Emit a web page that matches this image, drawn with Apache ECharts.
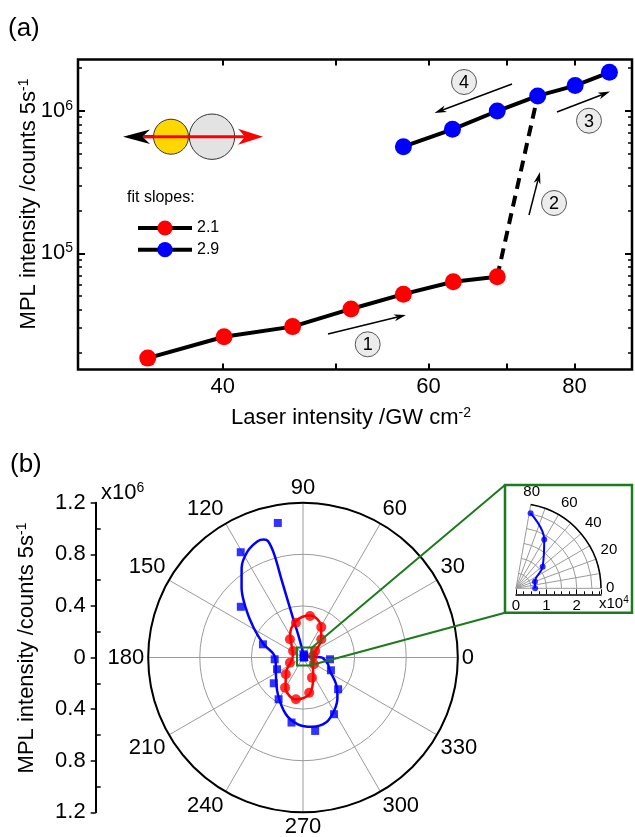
<!DOCTYPE html>
<html><head><meta charset="utf-8">
<script src="https://cdn.jsdelivr.net/npm/echarts@6/dist/echarts.min.js"></script>
<style>html,body{margin:0;padding:0;background:#fff}#c{width:635px;height:837px}</style>
</head><body><div id="c"></div>
<script>
// ---------- Panel (a) data ----------
const redIntensity  = [34.5, 40.1, 45.9, 51.5, 57.1, 63.0, 68.7];
const redCounts     = [1.84e4, 2.60e4, 3.06e4, 4.07e4, 5.17e4, 6.32e4, 6.85e4];
const blueIntensity = [57.1, 62.9, 68.7, 74.4, 80.1, 85.7];
const blueCounts    = [5.59e5, 7.40e5, 9.95e5, 1.27e6, 1.50e6, 1.86e6];
const jumpIntensity = [68.7, 74.4];
const jumpCounts    = [6.85e4, 1.27e6];
const slopeNames    = ['2.1', '2.9'];
const xTickValues   = [40, 50, 60, 70, 80];
const xLabelValues  = [40, 60, 80];
const yMajorValues  = [1e5, 1e6];
const yMinorValues  = [2e4,3e4,4e4,5e4,6e4,7e4,8e4,9e4,2e5,3e5,4e5,5e5,6e5,7e5,8e5,9e5,2e6];
const xRange = [30.07, 89.6];
const yRange = [1.531e4, 2.286e6];

// ---------- Panel (b) data (angle in degrees, counts) ----------
const blueSqAngle = [0, 19, 39, 60, 79, 100.6, 120.6, 140.8, 161.8, 183.6, 204.4, 221.4, 239.7, 260, 279.4, 298.7, 317.9, 335.4, 356.2];
const blueSqR     = [0.0063e6, 0.0066e6, 0.0113e6, 0.0186e6, 0.0252e6, 1.061e6, 0.948e6, 0.622e6, 0.327e6, 0.220e6, 0.221e6, 0.302e6, 0.375e6, 0.512e6, 0.577e6, 0.501e6, 0.367e6, 0.238e6, 0.210e6];
const blueFitAngle = [0, 10, 20, 40, 60, 80, 95, 100, 102, 104, 105.4, 105.6, 106.7, 108.4, 111.3, 117.5, 124.4, 131.4, 139.1, 148.9, 161.4, 173.8, 190, 211.7, 235.6, 253.2, 265.6, 277.4, 289.4, 300.1, 310.6, 321.1, 333.4, 345, 360];
const blueFitR     = [0.15e6, 0.05e6, 0.008e6, 0.011e6, 0.019e6, 0.025e6, 0.06e6, 0.12e6, 0.186e6, 0.291e6, 0.614e6, 0.832e6, 0.941e6, 0.964e6, 0.968e6, 0.929e6, 0.842e6, 0.72e6, 0.588e6, 0.447e6, 0.321e6, 0.228e6, 0.215e6, 0.247e6, 0.345e6, 0.459e6, 0.519e6, 0.542e6, 0.535e6, 0.479e6, 0.41e6, 0.33e6, 0.234e6, 0.2e6, 0.15e6];
const redDotAngle = [8.4, 28, 44.8, 59, 80.4, 101.5, 125.7, 147, 201.6, 224.3, 239.2, 260.4, 280, 294, 328];
const redDotR     = [0.08e6, 0.107e6, 0.2e6, 0.275e6, 0.326e6, 0.275e6, 0.174e6, 0.092e6, 0.109e6, 0.186e6, 0.272e6, 0.328e6, 0.277e6, 0.171e6, 0.1e6];
const redFitAngle = [0, 20, 30, 45, 60, 80, 100, 120, 140, 160, 180, 200, 220, 240, 260, 280, 300, 320, 340, 360];
const redFitR     = [0.08e6, 0.09e6, 0.12e6, 0.2e6, 0.28e6, 0.33e6, 0.29e6, 0.2e6, 0.11e6, 0.085e6, 0.08e6, 0.1e6, 0.17e6, 0.27e6, 0.33e6, 0.29e6, 0.16e6, 0.1e6, 0.085e6, 0.08e6];
const insetAngle = [0, 19, 39, 60, 79];
const insetR     = [0.63e4, 0.66e4, 1.13e4, 1.86e4, 2.52e4];
const radialTicks = [-1.2, -0.8, -0.4, 0, 0.4, 0.8, 1.2];

const FONT = 'Liberation Sans, Arial, Helvetica, sans-serif';
const L10 = Math.log10;
const zip = (a, b) => a.map((v, i) => [v, b[i]]);
const polarPts = (ang, r) => ang.map((a, i) => [r[i], a]);

function txt(x, y, text, size, extra) {
  return { type: 'text', x: x, y: y, z: 60,
    style: Object.assign({ text: text, fontSize: size, fontFamily: FONT, fill: '#000', align: 'left', verticalAlign: 'middle' }, extra || {}) };
}
function supRich(base, sup) {
  return { b: { fontSize: base, fontFamily: FONT, lineHeight: base + 2 },
           s: { fontSize: sup, fontFamily: FONT, verticalAlign: 'top', lineHeight: sup } };
}
function arrow(x1, y1, x2, y2, lw, hl, hw, color) {
  const a = Math.atan2(y2 - y1, x2 - x1), c = Math.cos(a), s = Math.sin(a);
  const bx = x2 - hl * c, by = y2 - hl * s;
  const nx = x2 - hl * 0.72 * c, ny = y2 - hl * 0.72 * s;
  return [
    { type: 'line', z: 40, shape: { x1: x1, y1: y1, x2: nx, y2: ny }, style: { stroke: color, lineWidth: lw } },
    { type: 'polygon', z: 41, shape: { points: [[x2, y2], [bx - hw * s, by + hw * c], [nx, ny], [bx + hw * s, by - hw * c]] }, style: { fill: color } }
  ];
}
function circled(cx, cy, label) {
  return [
    { type: 'circle', z: 42, shape: { cx: cx, cy: cy, r: 12.5 }, style: { fill: '#ececec', stroke: '#555', lineWidth: 1 } },
    txt(cx, cy + 1, label, 18, { align: 'center' })
  ];
}

const chart = echarts.init(document.getElementById('c'), null, { renderer: 'canvas' });
const GREEN = '#1d7a1d';
const BLUE = '#0000ff', RED = '#ff0000';

const graphics = [].concat(
  [txt(8, 29, '(a)', 26), txt(10, 465, '(b)', 26)],
  // molecule icon
  arrow(160, 136.7, 123, 136.7, 3, 27, 7.3, '#000'),
  [{ type: 'circle', z: 43, shape: { cx: 171, cy: 136.7, r: 17.5 }, style: { fill: '#ffd700', stroke: '#333', lineWidth: 1 } },
   { type: 'circle', z: 43, shape: { cx: 212, cy: 136.7, r: 22.7 }, style: { fill: '#e3e3e3', stroke: '#333', lineWidth: 1 } }],
  arrow(143, 136.7, 263, 136.7, 3, 25, 8, RED).map(e => Object.assign(e, { z: 45 })),
  [txt(127, 198, 'fit slopes:', 16)],
  arrow(328, 334, 406, 315, 1.5, 12, 3.5, '#000'), circled(367.7, 344.3, '1'),
  arrow(529, 215, 540, 172, 1.5, 12, 3.5, '#000'), circled(554, 203, '2'),
  arrow(557, 112, 610, 91.6, 1.5, 12, 3.5, '#000'), circled(589, 120.7, '3'),
  arrow(512, 84, 434.5, 113, 1.5, 12, 3.5, '#000'), circled(464, 82, '4'),
  // axis titles
  [txt(29, 204, '{b|MPL intensity /counts 5s}{s|-1}', 22, { align: 'center', rich: supRich(22, 14) })],
  [txt(351, 418, '{b|Laser intensity /GW cm}{s|-2}', 22, { align: 'center', rich: supRich(22, 14) })],
  [txt(27, 648, '{b|MPL intensity /counts 5s}{s|-1}', 22, { align: 'center', rich: supRich(22, 14) })],
  [txt(101, 493, '{b|x10}{s|6}', 22, { rich: supRich(22, 14) })],
  [txt(599, 604, '{b|x10}{s|4}', 15, { rich: supRich(15, 10) })],
  // green zoom box
  [{ type: 'rect', z: 70, shape: { x: 297, y: 647.5, width: 14.5, height: 18 }, style: { fill: 'none', stroke: GREEN, lineWidth: 2 } },
   { type: 'line', z: 70, shape: { x1: 311.5, y1: 648, x2: 505, y2: 485 }, style: { stroke: GREEN, lineWidth: 2 } },
   { type: 'line', z: 70, shape: { x1: 311.5, y1: 665, x2: 505, y2: 612.7 }, style: { stroke: GREEN, lineWidth: 2 } },
   { type: 'rect', z: 70, shape: { x: 505, y: 485, width: 127, height: 127.7 }, style: { fill: 'none', stroke: GREEN, lineWidth: 2.5 } }]
);
// rotate the two vertical titles
graphics.forEach(g => {
  if (g.type === 'text' && g.style && typeof g.style.text === 'string' && g.style.text.indexOf('MPL') >= 0) g.rotation = Math.PI / 2;
});

const tickBlack = { color: '#000', width: 1.5 };
const option = {
  animation: false,
  textStyle: { fontFamily: FONT, color: '#000' },
  grid: [
    { left: 78, top: 59.5, width: 554, height: 310, show: true, borderColor: '#000', borderWidth: 2.5, backgroundColor: 'transparent' },
    { left: 95.7, top: 502.7, width: 1, height: 309.6 },
    { left: 516, top: 593.3, width: 85, height: 1 }
  ],
  legend: {
    data: slopeNames, orient: 'vertical', left: 131, top: 215, itemWidth: 54, itemHeight: 19, itemGap: 5.7,
    lineStyle: { width: 4 }, textStyle: { fontSize: 16, color: '#000', fontFamily: FONT }, selectedMode: false
  },
  xAxis: [
    { type: 'log', gridIndex: 0, min: xRange[0], max: xRange[1], show: false },
    { type: 'value', gridIndex: 0, position: 'bottom', min: L10(xRange[0]), max: L10(xRange[1]),
      axisLine: { show: false }, splitLine: { show: false },
      axisTick: { inside: true, length: 6, lineStyle: { color: '#000', width: 2 }, customValues: xTickValues.map(L10) },
      axisLabel: { customValues: xLabelValues.map(L10), formatter: v => String(Math.round(Math.pow(10, v))), fontSize: 22, color: '#000', margin: 6 } },
    { type: 'value', gridIndex: 0, position: 'top', min: L10(xRange[0]), max: L10(xRange[1]),
      axisLine: { show: false }, splitLine: { show: false }, axisLabel: { show: false },
      axisTick: { inside: true, length: 6, lineStyle: { color: '#000', width: 2 }, customValues: xTickValues.map(L10) } },
    { type: 'value', gridIndex: 1, min: 0, max: 1, show: false },
    { type: 'value', gridIndex: 2, min: 0, max: 2.8e4, interval: 1e4,
      axisLine: { show: true, onZero: false, lineStyle: { color: '#000', width: 1.5 } }, splitLine: { show: false },
      axisTick: { inside: true, length: 5, lineStyle: { color: '#000', width: 1 } },
      minorTick: { show: true, splitNumber: 4, length: 3, lineStyle: { color: '#000', width: 1 } },
      axisLabel: { formatter: v => String(Math.round(v / 1e4)), fontSize: 15, color: '#000', margin: 4, showMaxLabel: false } }
  ],
  yAxis: [
    { type: 'log', gridIndex: 0, min: yRange[0], max: yRange[1], show: false },
    { type: 'value', gridIndex: 0, position: 'left', min: L10(yRange[0]), max: L10(yRange[1]),
      axisLine: { show: false }, splitLine: { show: false },
      axisTick: { inside: true, length: 7, lineStyle: { color: '#000', width: 2 }, customValues: yMajorValues.map(L10) },
      axisLabel: { customValues: yMajorValues.map(L10), formatter: v => '{b|10}{s|' + Math.round(v) + '}', margin: 5,
        rich: { b: { fontSize: 22, fontFamily: FONT, color: '#000', lineHeight: 24 }, s: { fontSize: 14, fontFamily: FONT, color: '#000', verticalAlign: 'top', lineHeight: 14 } } } },
    { type: 'value', gridIndex: 0, position: 'left', min: L10(yRange[0]), max: L10(yRange[1]),
      axisLine: { show: false }, splitLine: { show: false }, axisLabel: { show: false },
      axisTick: { inside: true, length: 4, lineStyle: { color: '#000', width: 1.5 }, customValues: yMinorValues.map(L10) } },
    { type: 'value', gridIndex: 0, position: 'right', min: L10(yRange[0]), max: L10(yRange[1]),
      axisLine: { show: false }, splitLine: { show: false }, axisLabel: { show: false },
      axisTick: { inside: true, length: 7, lineStyle: { color: '#000', width: 2 }, customValues: yMajorValues.map(L10) } },
    { type: 'value', gridIndex: 0, position: 'right', min: L10(yRange[0]), max: L10(yRange[1]),
      axisLine: { show: false }, splitLine: { show: false }, axisLabel: { show: false },
      axisTick: { inside: true, length: 4, lineStyle: { color: '#000', width: 1.5 }, customValues: yMinorValues.map(L10) } },
    { type: 'value', gridIndex: 1, position: 'left', min: -1.2, max: 1.2, interval: 0.4,
      axisLine: { show: true, onZero: false, lineStyle: { color: '#000', width: 2 } }, splitLine: { show: false },
      axisTick: { inside: false, length: 5, lineStyle: tickBlack },
      axisLabel: { formatter: v => Math.abs(v) < 1e-9 ? '0' : Math.abs(v).toFixed(1), fontSize: 22, color: '#000', margin: 10 } },
    { type: 'value', gridIndex: 1, position: 'left', min: -1.2, max: 1.2,
      axisLine: { show: false }, splitLine: { show: false }, axisLabel: { show: false },
      axisTick: { inside: true, length: 5, lineStyle: tickBlack, customValues: radialTicks.slice(0, -1).map((v, i) => (v + radialTicks[i + 1]) / 2) } },
    { type: 'value', gridIndex: 2, min: 0, max: 1, show: false }
  ],
  polar: [
    { center: [303, 657.5], radius: 154.8 },
    { center: [516, 588.3], radius: 85 }
  ],
  angleAxis: [
    { polarIndex: 0, type: 'value', min: 0, max: 360, interval: 30, startAngle: 0, clockwise: false,
      axisLine: { lineStyle: { color: '#000', width: 2 } }, axisTick: { show: false },
      axisLabel: { fontSize: 22, color: '#000', margin: 4 },
      splitLine: { lineStyle: { color: '#9a9a9a', width: 1 } } },
    { polarIndex: 1, type: 'value', min: 0, max: 80, interval: 20, startAngle: 0, endAngle: 80, clockwise: false,
      axisLine: { lineStyle: { color: '#000', width: 1.5 } }, axisTick: { show: false },
      axisLabel: { fontSize: 15, color: '#000', margin: 5 },
      splitLine: { lineStyle: { color: '#9a9a9a', width: 1 } },
      minorTick: { show: false, splitNumber: 2 },
      minorSplitLine: { show: true, lineStyle: { color: '#9a9a9a', width: 1 } } }
  ],
  radiusAxis: [
    { polarIndex: 0, type: 'value', min: 0, max: 1.2e6, interval: 0.4e6,
      axisLine: { show: false }, axisTick: { show: false }, axisLabel: { show: false },
      splitLine: { lineStyle: { color: '#9a9a9a', width: 1 } } },
    { polarIndex: 1, type: 'value', min: 0, max: 2.8e4, interval: 0.5e4,
      axisLine: { show: false }, axisTick: { show: false }, axisLabel: { show: false },
      splitLine: { lineStyle: { color: '#9a9a9a', width: 1 } } }
  ],
  series: [
    { name: 'jump', type: 'line', xAxisIndex: 0, yAxisIndex: 0, data: zip(jumpIntensity, jumpCounts), symbol: 'none', z: 2,
      lineStyle: { color: '#000', width: 4, type: [11, 7] } },
    { name: slopeNames[0], type: 'line', xAxisIndex: 0, yAxisIndex: 0, data: zip(redIntensity, redCounts), z: 3,
      symbol: 'circle', symbolSize: 17, lineStyle: { color: '#000', width: 4 }, itemStyle: { color: RED } },
    { name: slopeNames[1], type: 'line', xAxisIndex: 0, yAxisIndex: 0, data: zip(blueIntensity, blueCounts), z: 3,
      symbol: 'circle', symbolSize: 17, lineStyle: { color: '#000', width: 4 }, itemStyle: { color: BLUE } },
    { name: 'blueFit', type: 'line', coordinateSystem: 'polar', polarIndex: 0, data: polarPts(blueFitAngle, blueFitR),
      smooth: 0.35, symbol: 'none', lineStyle: { color: BLUE, width: 2.5 }, z: 4 },
    { name: 'blueData', type: 'scatter', coordinateSystem: 'polar', polarIndex: 0, data: polarPts(blueSqAngle, blueSqR),
      symbol: 'rect', symbolSize: 8, itemStyle: { color: BLUE }, z: 5 },
    { name: 'redFit', type: 'line', coordinateSystem: 'polar', polarIndex: 0, data: polarPts(redFitAngle, redFitR),
      smooth: 0.35, symbol: 'none', lineStyle: { color: RED, width: 2.5 }, z: 6 },
    { name: 'redData', type: 'scatter', coordinateSystem: 'polar', polarIndex: 0, data: polarPts(redDotAngle, redDotR),
      symbol: 'circle', symbolSize: 10, itemStyle: { color: RED }, z: 7 },
    { name: 'insetFit', type: 'line', coordinateSystem: 'polar', polarIndex: 1, data: polarPts(insetAngle, insetR),
      smooth: 0.4, symbol: 'none', lineStyle: { color: BLUE, width: 2 }, z: 4 },
    { name: 'insetData', type: 'scatter', coordinateSystem: 'polar', polarIndex: 1, data: polarPts(insetAngle, insetR),
      symbol: 'circle', symbolSize: 6, itemStyle: { color: BLUE }, z: 5 }
  ],
  graphic: { elements: graphics }
};
chart.setOption(option);
</script></body></html>
